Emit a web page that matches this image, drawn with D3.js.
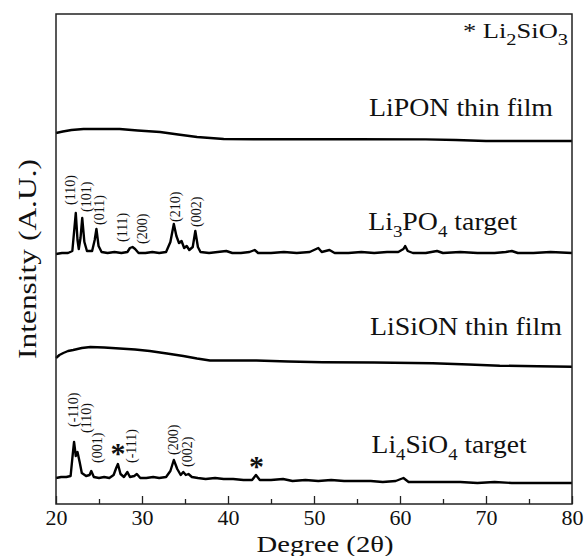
<!DOCTYPE html>
<html>
<head>
<style>
  body {
    background-color: white;
    margin: 0px;
  }
  svg text {
    font-family: "Liberation Serif", serif;
    fill: #111;
  }
</style>
<script src="https://cdn.jsdelivr.net/npm/d3@7"></script>
</head>
<body>
<svg></svg>
<script>
// [2theta, intensity] pairs (arbitrary units, stacked)
const li4sio4Target = [
  [20, 26], [20.6, 27], [21.2, 27], [21.7, 28], [21.95, 50], [22.1, 62], [22.3, 48],
  [22.5, 52], [22.75, 42], [23.0, 31], [23.5, 28], [23.9, 29], [24.1, 33], [24.4, 27],
  [25.0, 26], [25.6, 27], [26.2, 26], [26.7, 29], [27.0, 36], [27.2, 40], [27.5, 30],
  [27.9, 27], [28.3, 32], [28.6, 27], [29.1, 28], [29.4, 30], [29.8, 26], [30.5, 26],
  [31.3, 27], [32.0, 26], [32.8, 27], [33.3, 33], [33.7, 44], [34.1, 35], [34.5, 29],
  [34.8, 32], [35.1, 29], [35.4, 30], [35.8, 27], [36.5, 26], [37.4, 25], [38.5, 26],
  [39.5, 25], [40.6, 25], [41.8, 24], [42.8, 24], [43.25, 29], [43.7, 24], [45, 24],
  [46.4, 25], [47.5, 23], [49, 24], [50.5, 23], [52, 24], [53.5, 23], [55, 23],
  [56.6, 23], [58, 22], [59.5, 23], [60.4, 26], [61, 22], [63, 22], [65, 22],
  [67, 22], [69, 21], [71, 22], [73, 21], [75, 21], [77, 21], [80, 21]
];
const lisionFilm = [
  [20, 146], [20.4, 149], [20.85, 151], [21.4, 153], [22.0, 154], [23.0, 156], [24.0, 157],
  [25.6, 156.5], [27.4, 155.5], [29.2, 154.5], [30.9, 153], [32.9, 150.5], [34.8, 148],
  [36.4, 145.5], [37.9, 143.5], [40.5, 143.5], [43.3, 143.5], [47, 142.5], [51, 141.7],
  [57, 141.5], [63.8, 140.7], [68, 139.5], [71.6, 138.3], [76, 137.8], [80, 137.3]
];
const li3po4Target = [
  [20, 250], [20.7, 251], [21.4, 251], [21.9, 253], [22.1, 272], [22.3, 291], [22.5, 264],
  [22.65, 255], [22.85, 266], [23.05, 286], [23.3, 262], [23.6, 253], [24.2, 253],
  [24.5, 264], [24.7, 275], [24.95, 258], [25.3, 252], [26.0, 251], [26.8, 252],
  [27.6, 251], [28.3, 252], [28.6, 256], [28.9, 257], [29.2, 255], [29.6, 251], [30.4, 251],
  [31.2, 252], [32.0, 251], [32.8, 252], [33.3, 262], [33.7, 280], [34.0, 268],
  [34.3, 261], [34.6, 263], [34.9, 256], [35.2, 258], [35.5, 254], [35.9, 257],
  [36.2, 273], [36.5, 257], [36.8, 252], [37.8, 251], [38.8, 252], [39.8, 253], [40.5, 251],
  [41.5, 251], [42.5, 252], [43.1, 254], [43.5, 251], [45, 251], [46.5, 252], [48, 251],
  [49.5, 252], [50.5, 256], [50.9, 252], [51.8, 254], [52.4, 251], [54, 251], [55.5, 252],
  [57, 251], [58.5, 252], [59.8, 252], [60.4, 255], [60.6, 258], [60.9, 253], [61.5, 251],
  [63, 251], [64.3, 253], [65, 251], [67, 252], [69, 251], [71, 251], [72.3, 252],
  [73, 253], [73.7, 251], [75.5, 251], [77.5, 252], [80, 251]
];
const liponFilm = [
  [20, 371], [20.8, 372.5], [21.8, 374], [23.2, 375], [25.0, 375], [27.4, 375],
  [29.5, 373.5], [32.1, 372], [34.2, 369.5], [36.4, 367], [39.5, 365], [43, 364.8],
  [47.6, 364.7], [55, 364.7], [63, 364.6], [66.5, 364], [70, 363], [75, 363], [80, 363]
];
const seriesList = [li4sio4Target, lisionFilm, li3po4Target, liponFilm];

const xTicks = [20, 30, 40, 50, 60, 70, 80];
const xMinorTicks = [25, 35, 45, 55, 65, 75];

// [2theta, intensity, text] — rotated Miller index labels
const hklLabels = [
  [22.2, 299, "(110)"], [24.07, 292, "(101)"], [25.58, 279, "(011)"], [28.26, 262, "(111)"],
  [30.58, 260, "(200)"], [34.42, 282, "(210)"], [36.86, 277, "(002)"],
  [22.56, 77, "(-110)"], [24.07, 71, "(110)"], [25.35, 41, "(001)"], [29.3, 41, "(-111)"],
  [34.19, 49, "(200)"], [35.81, 37, "(002)"]
];
const starMarks = [[27.2, 41], [43.3, 28]];

// name parts: [text, isSubscript]
const sampleNames = [
  {x: 56.4, y: 388, len: 184, parts: [["LiPON thin film", false]]},
  {x: 56.3, y: 274, len: 149, parts: [["Li", false], ["3", true], ["PO", false], ["4", true], [" target", false]]},
  {x: 56.5, y: 169, len: 192, parts: [["LiSiON thin film", false]]},
  {x: 56.7, y: 51, len: 155, parts: [["Li", false], ["4", true], ["SiO", false], ["4", true], [" target", false]]}
];

const W = 585, H = 556;
const margin = {left: 56, right: 13, top: 14, bottom: 52};

const svg = d3.select("svg").attr("width", W).attr("height", H);

const x = d3.scaleLinear().domain([20, 80]).range([margin.left, W - margin.right]);
const y = d3.scaleLinear().domain([0, 490]).range([H - margin.bottom, margin.top]);

const line = d3.line()
    .x(function(d) {return x(d[0])})
    .y(function(d) {return y(d[1])});

svg.selectAll("path.trace")
  .data(seriesList)
  .enter().append("path")
    .attr("class", "trace")
    .attr("d", line)
    .attr("fill", "none")
    .attr("stroke", "#000")
    .attr("stroke-width", 2.4)
    .attr("stroke-linejoin", "round");

// frame
svg.append("rect")
    .attr("x", x(20)).attr("y", y(490))
    .attr("width", x(80) - x(20)).attr("height", y(0) - y(490))
    .attr("fill", "none").attr("stroke", "#222").attr("stroke-width", 1.5);

const xAxis = svg.append("g")
    .attr("transform", "translate(0," + y(0) + ")")
    .call(d3.axisBottom(x).tickValues(xTicks).tickSize(-8).tickPadding(5).tickFormat(d3.format("d")));
xAxis.select(".domain").remove();
xAxis.selectAll("line").attr("stroke", "#222").attr("stroke-width", 1.3);
xAxis.selectAll("text")
    .style("font-family", "'Liberation Serif', serif")
    .style("font-size", "22px").attr("fill", "#111");

const xMinor = svg.append("g")
    .attr("transform", "translate(0," + y(0) + ")")
    .call(d3.axisBottom(x).tickValues(xMinorTicks).tickSize(-5).tickFormat(""));
xMinor.select(".domain").remove();
xMinor.selectAll("line").attr("stroke", "#222").attr("stroke-width", 1.3);

svg.append("text")
    .attr("x", 325).attr("y", 552)
    .attr("text-anchor", "middle")
    .attr("textLength", 137).attr("lengthAdjust", "spacingAndGlyphs")
    .style("font-size", "24px")
    .text("Degree (2\u03b8)");

svg.append("text")
    .attr("transform", "translate(36,259) rotate(-90)")
    .attr("text-anchor", "middle")
    .attr("textLength", 200).attr("lengthAdjust", "spacingAndGlyphs")
    .style("font-size", "25px")
    .text("Intensity (A.U.)");

svg.selectAll("text.hkl")
  .data(hklLabels)
  .enter().append("text")
    .attr("class", "hkl")
    .attr("transform", function(d) {return "translate(" + x(d[0]) + "," + y(d[1]) + ") rotate(-90)"})
    .style("font-size", "14px")
    .text(function(d) {return d[2]});

svg.selectAll("text.star")
  .data(starMarks)
  .enter().append("text")
    .attr("class", "star")
    .attr("x", function(d) {return x(d[0])})
    .attr("y", function(d) {return y(d[1])})
    .attr("text-anchor", "middle")
    .style("font-size", "30px")
    .style("font-weight", "bold")
    .text("*");

function addName(g, parts) {
  parts.forEach(function(p) {
    g.append("tspan")
      .attr("dy", p[1] ? 7 : (g.attr("data-sub") === "1" ? -7 : 0))
      .style("font-size", p[1] ? "17px" : null)
      .text(p[0]);
    g.attr("data-sub", p[1] ? "1" : "0");
  });
}

sampleNames.forEach(function(s) {
  const t = svg.append("text")
      .attr("x", x(s.x)).attr("y", y(s.y))
      .attr("textLength", s.len).attr("lengthAdjust", "spacingAndGlyphs")
      .style("font-size", "25px");
  addName(t, s.parts);
});

const legend = svg.append("text")
    .attr("x", 463).attr("y", 38)
    .attr("textLength", 105).attr("lengthAdjust", "spacingAndGlyphs")
    .style("font-size", "22px");
addName(legend, [["* Li", false], ["2", true], ["SiO", false], ["3", true]]);
</script>
</body>
</html>
